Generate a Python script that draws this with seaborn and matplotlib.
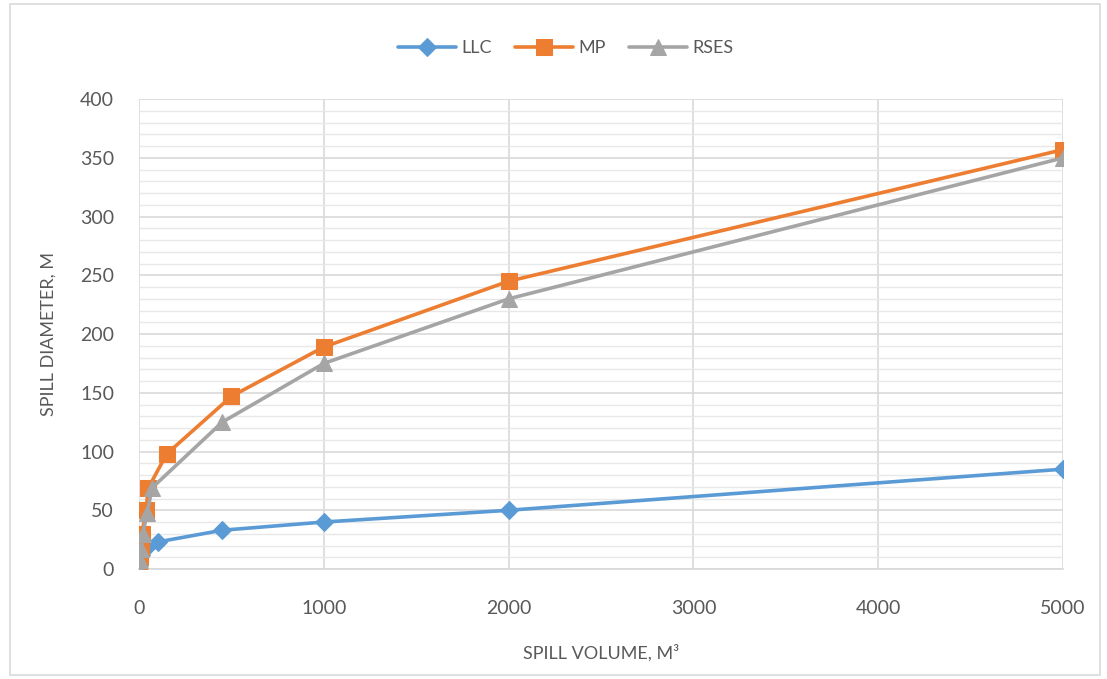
import numpy as np
import pandas as pd
import matplotlib.pyplot as plt
import seaborn as sns
from matplotlib.ticker import MultipleLocator
from matplotlib.patches import Rectangle

# values
llc_volume = [1, 10, 50, 100, 450, 1000, 2000, 5000]
llc_diameter = [3, 12, 20, 23, 33, 40, 50, 85]

mp_volume = [1, 3, 8, 15, 38, 50, 150, 500, 1000, 2000, 5000]
mp_diameter = [0, 10, 19, 30, 50, 69, 98, 147, 189, 245, 357]

rses_volume = [1, 5, 10, 20, 45, 70, 450, 1000, 2000, 5000]
rses_diameter = [0, 8, 17, 30, 48, 69, 125, 175, 230, 350]

series_names = ["LLC", "MP", "RSES"]
colors = {"LLC": "#5B9BD5", "MP": "#ED7D31", "RSES": "#A5A5A5"}
markers = {"LLC": "D", "MP": "s", "RSES": "^"}
msizes = {"LLC": 9, "MP": 11, "RSES": 11}

df = pd.concat([
    pd.DataFrame({"volume": llc_volume, "diameter": llc_diameter, "series": "LLC"}),
    pd.DataFrame({"volume": mp_volume, "diameter": mp_diameter, "series": "MP"}),
    pd.DataFrame({"volume": rses_volume, "diameter": rses_diameter, "series": "RSES"}),
], ignore_index=True)

sns.set_style("white")
plt.rcParams['font.family'] = ['Lato', 'DejaVu Sans']
text_col = "#595959"

fig = plt.figure(figsize=(11.07, 6.79), dpi=100)
ax = fig.add_axes([0.1256, 0.162, 0.8347, 0.692])

for name in series_names:
    sub = df[df["series"] == name]
    sns.lineplot(data=sub, x="volume", y="diameter", ax=ax, color=colors[name],
                 marker=markers[name], markersize=msizes[name], markeredgecolor=colors[name],
                 linewidth=2.6, sort=False, estimator=None, label=name, zorder=3)

ax.set_xlim(0, 5000)
ax.set_ylim(0, 400)
ax.xaxis.set_major_locator(MultipleLocator(1000))
ax.yaxis.set_major_locator(MultipleLocator(50))
ax.yaxis.set_minor_locator(MultipleLocator(10))
ax.grid(which="major", axis="both", color="#D9D9D9", linewidth=1.2, zorder=0)
ax.grid(which="minor", axis="y", color="#E8E8E8", linewidth=1.0, zorder=0)
ax.set_axisbelow(True)
for s in ["top", "right", "left"]:
    ax.spines[s].set_visible(False)
ax.spines["bottom"].set_color("#D9D9D9")
ax.spines["bottom"].set_linewidth(1.2)
ax.tick_params(axis="y", which="both", length=0, labelsize=14, colors=text_col, pad=18)
ax.tick_params(axis="x", which="both", length=0, labelsize=14, colors=text_col, pad=22)
ax.set_xticks([0, 1000, 2000, 3000, 4000, 5000])
ax.set_xticklabels(["0", "1000", "2000", "3000", "4000", "5000"], fontsize=14)

ax.set_xlabel("SPILL VOLUME, M³", fontsize=13, color=text_col, labelpad=20)
ax.set_ylabel("SPILL DIAMETER, M", fontsize=13, color=text_col, labelpad=17)

leg = ax.legend(loc="upper center", bbox_to_anchor=(0.462, 1.16), ncol=3, frameon=False,
                fontsize=13, handlelength=3.2, columnspacing=1.3, handletextpad=0.3)
for t in leg.get_texts():
    t.set_color(text_col)

fig.patches.append(Rectangle((0.009, 0.006), 0.985, 0.988, transform=fig.transFigure,
                             fill=False, edgecolor="#D9D9D9", linewidth=1.2))

fig.savefig("out.png", dpi=100)
